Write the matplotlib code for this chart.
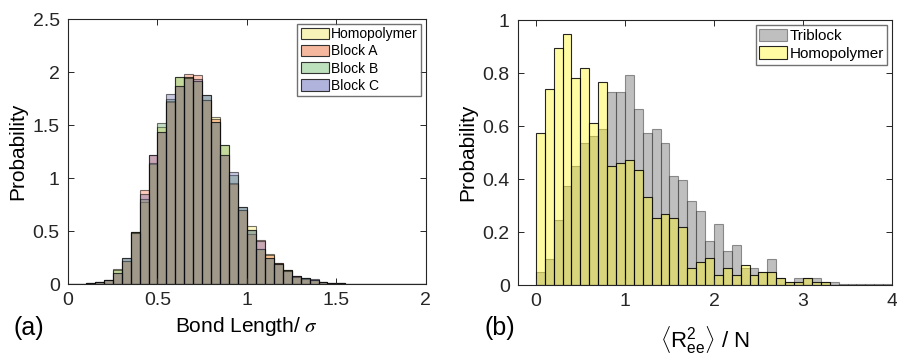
import numpy as np
import matplotlib
matplotlib.use('Agg')
import matplotlib.pyplot as plt
from matplotlib.patches import Patch

plt.rcParams['font.family'] = ['Liberation Sans', 'DejaVu Sans']
plt.rcParams['mathtext.fontset'] = 'custom'
plt.rcParams['mathtext.rm'] = 'Liberation Sans'
plt.rcParams['mathtext.it'] = 'Liberation Sans:italic'

# panel (a): bond length histograms, bins of 0.05 from 0 to 2
bond_edges = np.arange(0, 2.0, 0.05)
homo_a = [0, 0.003, 0.006, 0.018, 0.038, 0.14, 0.22, 0.49, 0.77, 1.13,
          1.48, 1.72, 1.95, 1.95, 1.92, 1.74, 1.575, 1.31, 0.94, 0.70,
          0.545, 0.33, 0.28, 0.20, 0.13, 0.075, 0.055, 0.035, 0.017, 0.010,
          0.007, 0.004, 0.003, 0.002, 0.004, 0.001, 0.001, 0.001, 0.001, 0]
block_a = [0, 0.003, 0.008, 0.022, 0.036, 0.10, 0.22, 0.495, 0.89, 1.22,
           1.43, 1.73, 1.87, 1.98, 1.97, 1.74, 1.555, 1.22, 0.95, 0.70,
           0.47, 0.42, 0.27, 0.20, 0.13, 0.075, 0.05, 0.035, 0.017, 0.010,
           0.006, 0.004, 0.002, 0.002, 0.003, 0.001, 0.001, 0.001, 0.001, 0]
block_b = [0, 0.003, 0.006, 0.018, 0.040, 0.13, 0.25, 0.49, 0.805, 1.14,
           1.52, 1.745, 1.95, 1.95, 1.92, 1.78, 1.53, 1.31, 1.03, 0.73,
           0.51, 0.33, 0.25, 0.19, 0.13, 0.07, 0.055, 0.035, 0.016, 0.009,
           0.007, 0.004, 0.003, 0.002, 0.004, 0.001, 0.001, 0.001, 0.001, 0]
block_c = [0, 0.003, 0.006, 0.018, 0.038, 0.10, 0.25, 0.485, 0.85, 1.22,
           1.43, 1.79, 1.87, 1.94, 1.93, 1.78, 1.53, 1.22, 1.06, 0.73,
           0.51, 0.41, 0.25, 0.19, 0.125, 0.075, 0.055, 0.045, 0.018, 0.010,
           0.007, 0.003, 0.002, 0.002, 0.003, 0.001, 0.001, 0.001, 0.001, 0]

# panel (b): end-to-end distance histograms, bins of 0.1 from 0 to 4
ree_edges = np.arange(0, 4.0, 0.1)
triblock = [0.05, 0.10, 0.245, 0.374, 0.449, 0.537, 0.562, 0.588, 0.73, 0.73,
            0.792, 0.665, 0.575, 0.588, 0.537, 0.411, 0.396, 0.318, 0.28, 0.167,
            0.23, 0.128, 0.153, 0.064, 0.063, 0.05, 0.10, 0.025, 0.013, 0.025,
            0.025, 0.025, 0.013, 0.013, 0.003, 0.003, 0.003, 0.003, 0.003, 0.003]
homo_b = [0.575, 0.742, 0.896, 0.947, 0.780, 0.818, 0.613, 0.767, 0.449, 0.462,
          0.474, 0.434, 0.333, 0.255, 0.268, 0.255, 0.218, 0.063, 0.088, 0.101,
          0.038, 0.063, 0.038, 0.075, 0.040, 0.050, 0.050, 0.025, 0.013, 0.013,
          0.025, 0.013, 0.013, 0, 0, 0, 0, 0, 0, 0]

fig = plt.figure(figsize=(8.97, 3.6), dpi=100)
ax1 = fig.add_axes([0.0758, 0.211, 0.399, 0.736])
ax2 = fig.add_axes([0.5775, 0.208, 0.417, 0.736])

# bar colour, legend swatch colour, label
series = [(homo_a, (1.0, 0.95, 0.3), (0.97, 0.95, 0.72), 'Homopolymer'),
          (block_a, (1.0, 0.4, 0.2), (0.96, 0.72, 0.62), 'Block A'),
          (block_b, (0.3, 0.6, 0.3), (0.74, 0.88, 0.74), 'Block B'),
          (block_c, (0.35, 0.35, 0.65), (0.69, 0.70, 0.86), 'Block C')]
handles = []
for vals, col, lcol, lab in series:
    ax1.bar(bond_edges, vals, width=0.05, align='edge',
            facecolor=col + (0.33,), edgecolor=(0, 0, 0, 0.55),
            linewidth=0.8)
    handles.append(Patch(facecolor=lcol, edgecolor='0.2', linewidth=0.8, label=lab))
ax1.set_xlim(0, 2)
ax1.set_ylim(0, 2.5)
ax1.set_xticks([0, 0.5, 1, 1.5, 2])
ax1.set_xticklabels(['0', '0.5', '1', '1.5', '2'])
ax1.set_yticks([0, 0.5, 1, 1.5, 2, 2.5])
ax1.set_yticklabels(['0', '0.5', '1', '1.5', '2', '2.5'])
ax1.set_ylabel('Probability', fontsize=15)
xl = ax1.set_xlabel(r'Bond Length/ $\sigma$', fontsize=15)
xl.set_math_fontfamily('stix')
ax1.legend(handles=handles, loc='upper right', fontsize=10, frameon=True,
           fancybox=False, edgecolor='0.3', borderpad=0.25, handlelength=2.0,
           handleheight=0.9, labelspacing=0.22, handletextpad=0.15,
           borderaxespad=0.35)
fig.text(0.015, 0.07, '(a)', fontsize=18)

ax2.bar(ree_edges, triblock, width=0.1, align='edge',
        facecolor=(0.5, 0.5, 0.5, 0.5), edgecolor=(0.2, 0.2, 0.2, 0.5),
        linewidth=0.8, label='Triblock')
ax2.bar(ree_edges, homo_b, width=0.1, align='edge',
        facecolor=(1, 0.97, 0.1, 0.4), edgecolor=(0, 0, 0, 0.85),
        linewidth=0.8, label='Homopolymer')
ax2.set_xlim(-0.2, 4)
ax2.set_ylim(0, 1)
ax2.set_xticks([0, 1, 2, 3, 4])
ax2.set_yticks([0, 0.2, 0.4, 0.6, 0.8, 1])
ax2.set_yticklabels(['0', '0.2', '0.4', '0.6', '0.8', '1'])
ax2.set_ylabel('Probability', fontsize=15)
ax2.set_xlabel(r'$\langle\mathrm{R}^{2}_{\mathrm{ee}}\rangle$ / N', fontsize=16,
               labelpad=10)
ax2.legend(loc='upper right', fontsize=11, frameon=True, fancybox=False,
           edgecolor='0.3', borderpad=0.25, handlelength=1.8, handleheight=0.9,
           labelspacing=0.2, handletextpad=0.15, borderaxespad=0.3)
fig.text(0.54, 0.07, '(b)', fontsize=18)

for ax in (ax1, ax2):
    ax.tick_params(direction='in', top=True, right=True, length=4,
                   width=0.7, labelsize=14, colors='0.15', pad=6)
    for s in ax.spines.values():
        s.set_linewidth(0.8)
        s.set_color('0.15')

fig.savefig('out.png', dpi=100)
